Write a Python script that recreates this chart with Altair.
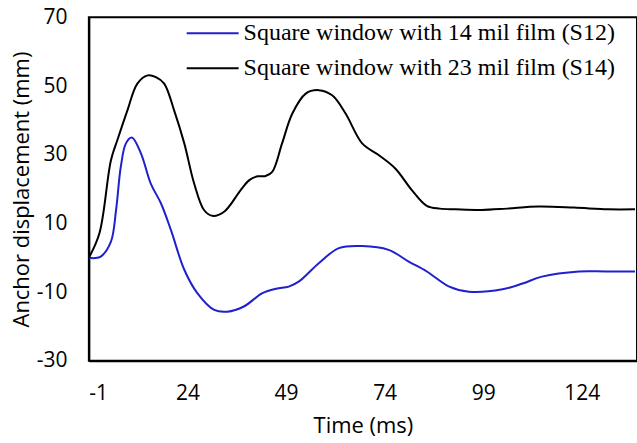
import altair as alt
import pandas as pd

s12_label = "Square window with 14 mil film (S12)"
s14_label = "Square window with 23 mil film (S14)"

s12_x = [-1, 0.5, 2.1, 4.6, 5.9, 7.1, 8.4, 9.9, 12.2, 14.7, 17.3, 19.8, 23.2, 26.5, 30.8, 34.1,
         38.3, 43, 46.5, 49.7, 52.3, 57.3, 62.4, 68.3, 75, 80.1, 84.7, 90.4, 95.4, 103.9, 109,
         113.9, 123.3, 130, 137.5]
s12_y = [0, -0.1, 0.4, 4.7, 13.9, 26.5, 33.3, 35, 30.4, 21.6, 15.8, 8.1, -3.5, -10.3, -15.2, -15.7,
         -14.2, -10.3, -9, -8.4, -6.9, -1.6, 2.8, 3.4, 2.3, -1.1, -4, -8.4, -9.9, -9.2, -7.5,
         -5.5, -4.0, -4.0, -4.0]

s14_x = [-1, 1.7, 4.6, 6.3, 8.8, 11.3, 13.9, 16, 18.1, 20.6, 23.2, 25.7, 28.2, 30.3, 33.3,
         37.5, 39.7, 41.8, 43.8, 45.5, 48, 50.6, 54, 57.3, 60.7, 64.1, 68.3, 72.5, 76.7, 80.9,
         84.7, 88, 92, 98.6, 105, 113, 122, 130.7, 137.5]
s14_y = [0, 7.2, 28.4, 34.5, 43, 50.7, 53.1, 52.6, 50.7, 43, 33.3, 21.6, 13.9, 12.2, 13.4,
         19.7, 22.6, 23.7, 23.8, 25, 33.3, 42, 47.8, 48.8, 47.3, 42, 33.3, 29.9, 26, 19.7,
         15.1, 14.3, 14.1, 13.9, 14.3, 14.9, 14.6, 14.1, 14.1]

x_ticks = [-1, 24, 49, 74, 99, 124]
y_ticks = [-30, -10, 10, 30, 50, 70]

df = pd.concat([
    pd.DataFrame({"t": s12_x, "d": s12_y, "series": s12_label, "order": range(len(s12_x))}),
    pd.DataFrame({"t": s14_x, "d": s14_y, "series": s14_label, "order": range(len(s14_x))}),
])

chart = alt.Chart(df).mark_line(interpolate="catmull-rom", strokeWidth=2, clip=True).encode(
    x=alt.X("t:Q", title="Time (ms)",
            scale=alt.Scale(domain=[-1, 138], nice=False, zero=False),
            axis=alt.Axis(values=x_ticks, ticks=False, grid=False, labelPadding=22,
                          labelExpr="toString(datum.value)",
                          titlePadding=12, domainWidth=2, domainColor="black")),
    y=alt.Y("d:Q", title="Anchor displacement (mm)",
            scale=alt.Scale(domain=[-30, 70], nice=False, zero=False),
            axis=alt.Axis(values=y_ticks, ticks=False, grid=False, labelPadding=22,
                          labelExpr="toString(datum.value)",
                          titlePadding=3, domainWidth=2, domainColor="black")),
    color=alt.Color("series:N",
                    scale=alt.Scale(domain=[s12_label, s14_label], range=["#2020CC", "#000000"]),
                    legend=alt.Legend(title=None, orient="none", legendX=97, legendY=4,
                                      symbolType="stroke", symbolSize=2704, symbolStrokeWidth=2,
                                      labelFont="Liberation Serif", labelFontSize=24,
                                      labelColor="black", labelLimit=600, labelOffset=4,
                                      clipHeight=24, rowPadding=11, padding=0)),
    order="order:Q",
    detail="series:N",
).properties(
    width=549, height=344,
    padding={"left": 89, "top": 17, "right": 0, "bottom": 82},
    autosize=alt.AutoSizeParams(type="none"),
).configure_view(
    stroke="black", strokeWidth=2
).configure_axis(
    labelFont="Open Sans", labelFontSize=21, labelColor="black",
    titleFont="Open Sans", titleFontSize=22, titleColor="black", titleFontWeight="normal",
)

chart.save("out.html", embed_options={"renderer": "svg", "actions": False})
